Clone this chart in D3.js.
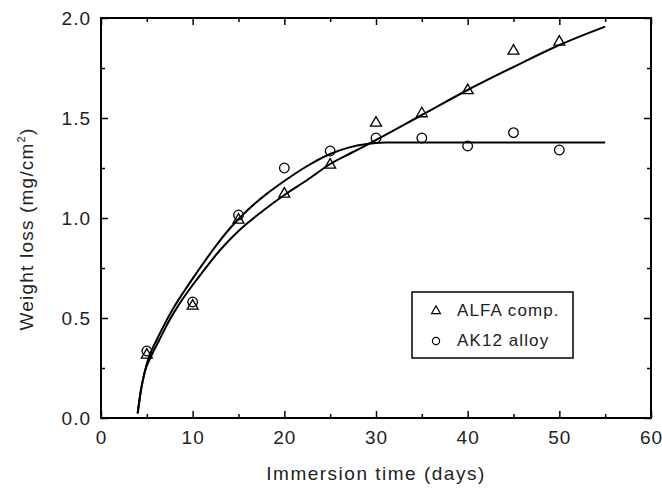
<!DOCTYPE html>
<html>
<head>
<meta charset="utf-8">
<script src="https://cdn.jsdelivr.net/npm/d3@7"></script>
<style>
  body { margin: 0; background: #fff; }
  svg { display: block; font-family: "Liberation Sans", Arial, sans-serif; }
</style>
</head>
<body>
<svg id="chart" width="662" height="488"></svg>
<script>
// measured points
var days = [5, 10, 15, 20, 25, 30, 35, 40, 45, 50];
var alfaLoss = [0.32, 0.565, 0.995, 1.125, 1.27, 1.48, 1.527, 1.643, 1.84, 1.885];
var ak12Loss = [0.335, 0.58, 1.015, 1.25, 1.335, 1.40, 1.40, 1.36, 1.427, 1.34];

// fitted curves
var alfaFitDays = [4.0, 4.36, 4.73, 5.45, 6.36, 7.27, 8.36, 9.6, 11, 13, 15, 17.5, 20, 22.5, 25, 27.5, 30, 35, 40, 45, 50, 55];
var alfaFitLoss = [0.023, 0.14, 0.223, 0.307, 0.39, 0.473, 0.557, 0.64, 0.725, 0.84, 0.935, 1.03, 1.115, 1.19, 1.27, 1.33, 1.39, 1.515, 1.64, 1.755, 1.865, 1.957];
var ak12FitDays = [4.0, 4.36, 4.73, 5.24, 6.07, 6.98, 8.0, 9.16, 10.5, 12.2, 14, 16, 18, 20, 22.5, 25, 27, 29, 31, 33, 55];
var ak12FitLoss = [0.023, 0.14, 0.223, 0.307, 0.39, 0.473, 0.557, 0.64, 0.73, 0.84, 0.945, 1.04, 1.118, 1.185, 1.26, 1.32, 1.352, 1.37, 1.377, 1.378, 1.378];

var xMajor = [0, 10, 20, 30, 40, 50, 60];
var xMinor = [5, 15, 25, 35, 45, 55];
var yMajor = [0.0, 0.5, 1.0, 1.5, 2.0];
var yMinor = [0.25, 0.75, 1.25, 1.75];

var legendNames = ["ALFA comp.", "AK12 alloy"];

// plot box (window.top is taken, so own names)
var plotLeft = 101, plotRight = 651, plotTop = 18, plotBottom = 418;

var svg = d3.select("#chart");

var x = d3.scaleLinear().domain([0, 60]).range([plotLeft, plotRight]);
var y = d3.scaleLinear().domain([0, 2]).range([plotBottom, plotTop]);

// frame
svg.append("rect")
    .attr("x", plotLeft)
    .attr("y", plotTop)
    .attr("width", plotRight - plotLeft)
    .attr("height", plotBottom - plotTop)
    .attr("fill", "none")
    .attr("stroke", "#000")
    .attr("stroke-width", 2);

function styleAxis(g) {
    g.select(".domain").remove();
    g.selectAll(".tick line").attr("stroke", "#000").attr("stroke-width", 1.5);
    g.selectAll(".tick text")
        .attr("fill", "#222")
        .attr("font-size", "19px")
        .attr("letter-spacing", "1px")
        .attr("font-family", "Liberation Sans, Arial, sans-serif");
}

// bottom + top
svg.append("g").attr("transform", "translate(0," + plotBottom + ")")
    .call(d3.axisBottom(x).tickValues(xMajor).tickSize(-7).tickPadding(13).tickFormat(d3.format("d")))
    .call(styleAxis);
svg.append("g").attr("transform", "translate(0," + plotBottom + ")")
    .call(d3.axisBottom(x).tickValues(xMinor).tickSize(-4).tickFormat(""))
    .call(styleAxis);
svg.append("g").attr("transform", "translate(0," + plotTop + ")")
    .call(d3.axisTop(x).tickValues(xMajor).tickSize(-7).tickFormat(""))
    .call(styleAxis);
svg.append("g").attr("transform", "translate(0," + plotTop + ")")
    .call(d3.axisTop(x).tickValues(xMinor).tickSize(-4).tickFormat(""))
    .call(styleAxis);

// left + right
svg.append("g").attr("transform", "translate(" + plotLeft + ",0)")
    .call(d3.axisLeft(y).tickValues(yMajor).tickSize(-7).tickPadding(10).tickFormat(d3.format(".1f")))
    .call(styleAxis);
svg.append("g").attr("transform", "translate(" + plotLeft + ",0)")
    .call(d3.axisLeft(y).tickValues(yMinor).tickSize(-4).tickFormat(""))
    .call(styleAxis);
svg.append("g").attr("transform", "translate(" + plotRight + ",0)")
    .call(d3.axisRight(y).tickValues(yMajor).tickSize(-7).tickFormat(""))
    .call(styleAxis);
svg.append("g").attr("transform", "translate(" + plotRight + ",0)")
    .call(d3.axisRight(y).tickValues(yMinor).tickSize(-4).tickFormat(""))
    .call(styleAxis);

// axis titles
svg.append("text")
    .attr("x", (plotLeft + plotRight) / 2)
    .attr("y", 480)
    .attr("text-anchor", "middle")
    .attr("font-size", "19px")
    .attr("letter-spacing", "1.5px")
    .attr("fill", "#222")
    .text("Immersion time (days)");

var yTitle = svg.append("text")
    .attr("transform", "translate(33,229) rotate(-90)")
    .attr("text-anchor", "middle")
    .attr("font-size", "19px")
    .attr("letter-spacing", "1.2px")
    .attr("fill", "#222");
yTitle.append("tspan").text("Weight loss (mg/cm");
yTitle.append("tspan").attr("dy", -8).attr("font-size", "11px").text("2");
yTitle.append("tspan").attr("dy", 8).text(")");

// fit lines
var line = d3.line()
    .x(d => x(d[0]))
    .y(d => y(d[1]))
    .curve(d3.curveMonotoneX);

svg.append("path")
    .datum(d3.zip(alfaFitDays, alfaFitLoss))
    .attr("d", line)
    .attr("fill", "none")
    .attr("stroke", "#000")
    .attr("stroke-width", 2);

svg.append("path")
    .datum(d3.zip(ak12FitDays, ak12FitLoss))
    .attr("d", line)
    .attr("fill", "none")
    .attr("stroke", "#000")
    .attr("stroke-width", 2);

// markers
var tri = d3.symbol().type(d3.symbolTriangle).size(52);

svg.append("g").selectAll("path")
    .data(d3.zip(days, alfaLoss))
    .join("path")
    .attr("d", tri)
    .attr("transform", d => "translate(" + x(d[0]) + "," + (y(d[1]) + 1) + ")")
    .attr("fill", "none")
    .attr("stroke", "#000")
    .attr("stroke-width", 1.3);

svg.append("g").selectAll("circle")
    .data(d3.zip(days, ak12Loss))
    .join("circle")
    .attr("cx", d => x(d[0]))
    .attr("cy", d => y(d[1]))
    .attr("r", 4.8)
    .attr("fill", "none")
    .attr("stroke", "#000")
    .attr("stroke-width", 1.3);

// legend
var lg = svg.append("g");
lg.append("rect")
    .attr("x", 412)
    .attr("y", 292)
    .attr("width", 161)
    .attr("height", 66)
    .attr("fill", "#fff")
    .attr("stroke", "#000")
    .attr("stroke-width", 1.5);

lg.append("path")
    .attr("d", d3.symbol().type(d3.symbolTriangle).size(34))
    .attr("transform", "translate(436,311)")
    .attr("fill", "none")
    .attr("stroke", "#000")
    .attr("stroke-width", 1.2);
lg.append("circle")
    .attr("cx", 436)
    .attr("cy", 341)
    .attr("r", 3.6)
    .attr("fill", "none")
    .attr("stroke", "#000")
    .attr("stroke-width", 1.2);

lg.selectAll("text")
    .data(legendNames)
    .join("text")
    .attr("x", 457)
    .attr("y", (d, i) => 316 + i * 30)
    .attr("font-size", "17px")
    .attr("letter-spacing", "1.1px")
    .attr("fill", "#222")
    .text(d => d);
</script>
</body>
</html>
